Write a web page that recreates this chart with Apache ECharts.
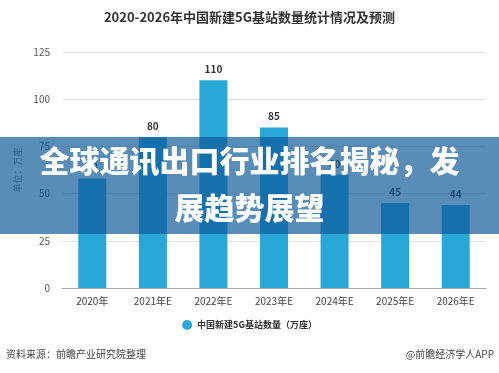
<!DOCTYPE html>
<html><head><meta charset="utf-8">
<script src="https://cdn.jsdelivr.net/npm/echarts@6/dist/echarts.min.js"></script>
<style>html,body{margin:0;padding:0;background:#fff}#c{width:499px;height:373px}</style>
</head><body><div id="c"></div>
<script>
var categories = ['2020年','2021年E','2022年E','2023年E','2024年E','2025年E','2026年E'];
var values = [58, 80, 110, 85, 60, 45, 44];
var yTicks = [0, 25, 50, 75, 100, 125];
var seriesName = '中国新建5G基站数量（万座）';
var titleText = '2020-2026年中国新建5G基站数量统计情况及预测';
var bannerLines = ['全球通讯出口行业排名揭秘，发', '展趋势展望'];
var sourceText = '资料来源：前瞻产业研究院整理';
var brandText = '@前瞻经济学人APP';

var font = '"Noto Sans CJK SC", "Microsoft YaHei", sans-serif';
var chart = echarts.init(document.getElementById('c'), null, {renderer:'canvas'});
chart.setOption({
  animation:false,
  backgroundColor:'#fff',
  textStyle:{fontFamily:font},
  title:{text:titleText,left:'center',top:6,textStyle:{fontSize:13,fontWeight:'bold',color:'#333',fontFamily:font}},
  grid:{left:62,right:13,top:52,bottom:85},
  legend:{data:[seriesName],bottom:38,left:'center',icon:'circle',itemWidth:10,itemHeight:10,
    textStyle:{fontSize:9,fontWeight:'bold',color:'#333'}},
  xAxis:{type:'category',data:categories,
    axisLine:{lineStyle:{color:'#aaa'}},
    axisTick:{alignWithLabel:true,length:4,lineStyle:{color:'#aaa'}},
    axisLabel:{fontSize:10,color:'#444',margin:8}},
  yAxis:{type:'value',min:yTicks[0],max:yTicks[yTicks.length-1],interval:25,
    name:'单位：万座',nameLocation:'middle',nameGap:32,nameRotate:90,
    nameTextStyle:{fontSize:9,color:'#888'},
    axisLine:{show:false},axisTick:{show:false},
    axisLabel:{fontSize:10,color:'#555',margin:12},
    splitLine:{lineStyle:{color:'#e2e2e2'}}},
  series:[{name:seriesName,type:'bar',data:values,barWidth:28,
    itemStyle:{color:'#29a8d8'},
    label:{show:true,position:'top',fontSize:10,fontWeight:'bold',color:'#333',distance:6}}],
  graphic:[
    {type:'rect',left:0,top:137,shape:{width:499,height:97},style:{fill:'rgba(12,85,150,0.68)'},z:100},
    {type:'text',left:'center',top:146,style:{text:bannerLines[0],fill:'#fff',font:'900 30px '+font},z:101},
    {type:'text',left:'center',top:193,style:{text:bannerLines[1],fill:'#fff',font:'900 30px '+font},z:101},
    {type:'text',left:6,top:349,style:{text:sourceText,fill:'#444',font:'10px '+font},z:10},
    {type:'text',right:5,top:349,style:{text:brandText,fill:'#444',font:'10px '+font},z:10}
  ]
});
</script></body></html>
